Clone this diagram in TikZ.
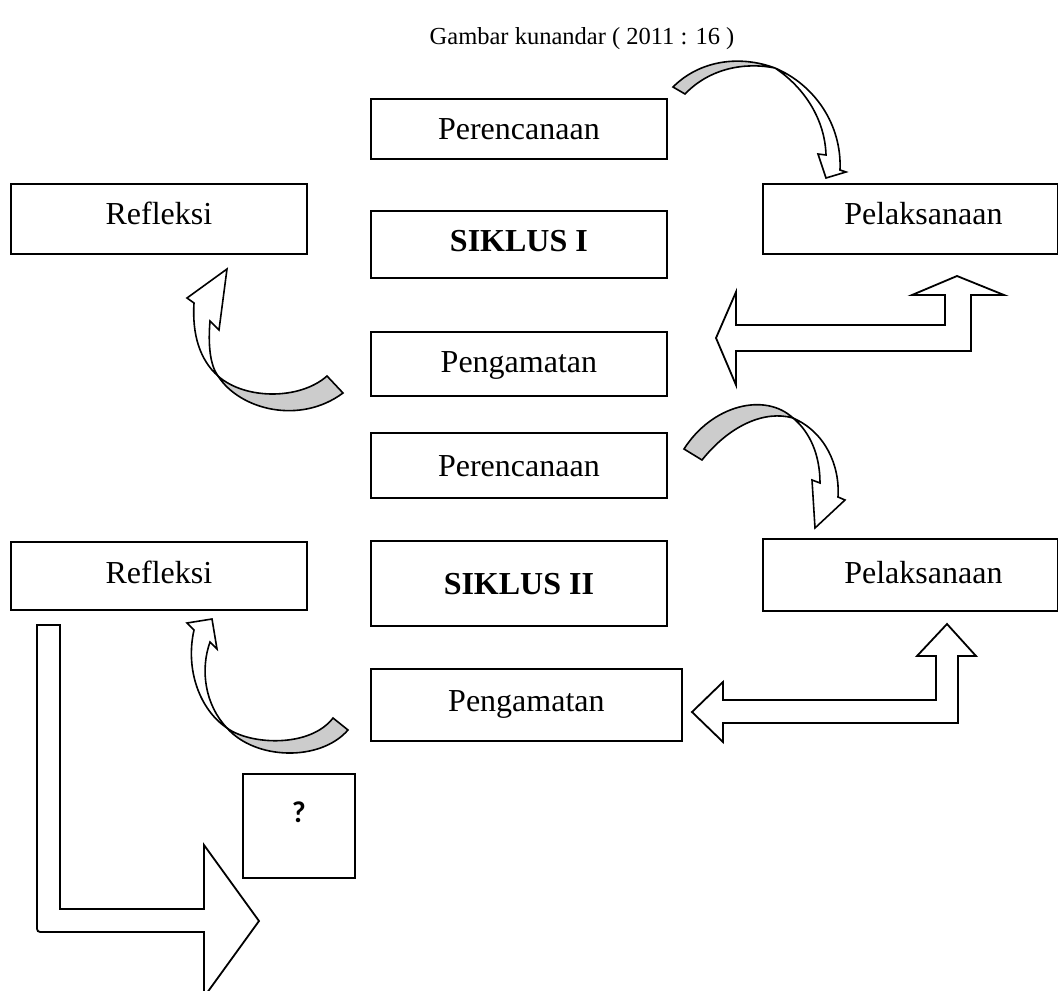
\documentclass[tikz,border=0pt]{standalone}
\usepackage{fontspec}
\setmainfont{Liberation Serif}
\newfontfamily\qfont{Carlito}
\definecolor{bandgray}{RGB}{204,204,204}
\begin{document}
\begin{tikzpicture}[x=1pt,y=-1pt,
  boxstyle/.style={draw=black, line width=1.8pt, rectangle, inner sep=0pt, anchor=north west},
  txt/.style={font=\fontsize{32}{38}\selectfont, anchor=base, inner sep=0pt},
  bandline/.style={draw=black, line width=1.6pt, line join=miter, miter limit=10},
  arrowline/.style={draw=black, fill=white, line width=1.8pt, line join=miter, miter limit=10}
]
\useasboundingbox (0,0) rectangle (1058,991);
\clip (0,0) rectangle (1058,991);

% title
\node[font=\fontsize{24.5}{29}\selectfont, anchor=base, inner sep=0pt] (title) at (582,44) {Gambar kunandar ( 2011 : 16 )};

% cycle I boxes
\node[boxstyle, minimum width=296pt, minimum height=60pt] (per1) at (370,98) {};
\node[txt] (per1t) at ([yshift=-41pt]per1.north) {Perencanaan};
\node[boxstyle, minimum width=296pt, minimum height=70pt] (ref1) at (10,183) {};
\node[txt] (ref1t) at ([yshift=-41pt]ref1.north) {Refleksi};
\node[boxstyle, minimum width=296pt, minimum height=67pt] (sik1) at (370,210) {};
\node[txt] (sik1t) at ([yshift=-41pt]sik1.north) {\textbf{SIKLUS I}};
\node[boxstyle, minimum width=295pt, minimum height=70pt] (pel1) at (762,183) {};
\node[txt] (pel1t) at ([xshift=13pt,yshift=-41pt]pel1.north) {Pelaksanaan};
\node[boxstyle, minimum width=296pt, minimum height=64pt] (pen1) at (370,331) {};
\node[txt] (pen1t) at ([yshift=-41pt]pen1.north) {Pengamatan};

% cycle II boxes
\node[boxstyle, minimum width=296pt, minimum height=65pt] (per2) at (370,432) {};
\node[txt] (per2t) at ([yshift=-44pt]per2.north) {Perencanaan};
\node[boxstyle, minimum width=296pt, minimum height=68pt] (ref2) at (10,541) {};
\node[txt] (ref2t) at ([yshift=-42pt]ref2.north) {Refleksi};
\node[boxstyle, minimum width=296pt, minimum height=85pt] (sik2) at (370,540) {};
\node[txt] (sik2t) at ([yshift=-54pt]sik2.north) {\textbf{SIKLUS II}};
\node[boxstyle, minimum width=295pt, minimum height=72pt] (pel2) at (762,538) {};
\node[txt] (pel2t) at ([xshift=13pt,yshift=-45pt]pel2.north) {Pelaksanaan};
\node[boxstyle, minimum width=311pt, minimum height=72pt] (pen2) at (370,668) {};
\node[txt] (pen2t) at ([yshift=-43pt]pen2.north) {Pengamatan};

% question box
\node[boxstyle, minimum width=112pt, minimum height=104pt] (qbox) at (242,773) {};
\node[font=\qfont\bfseries\fontsize{30}{34}\selectfont, anchor=base, inner sep=0pt] (qt) at ([yshift=-49pt]qbox.north) {?};

% curved arrow 1 (Perencanaan I -> Pelaksanaan I)
\filldraw[bandline, fill=bandgray] (673,87) .. controls (700,60) and (740,55) .. (775,68) .. controls (745,62) and (710,68) .. (685,94) -- cycle;
\filldraw[bandline, fill=white] (775,68) .. controls (815,85) and (842,125) .. (840,170) -- (846,172) -- (826,178) -- (818,154) -- (826,155) .. controls (825,120) and (805,88) .. (775,68) -- cycle;

% curved arrow 2 (Perencanaan II -> Pelaksanaan II)
\filldraw[bandline, fill=bandgray] (684,449) .. controls (712,405) and (765,392) .. (793,418) .. controls (765,410) and (730,425) .. (702,460) -- cycle;
\filldraw[bandline, fill=white] (793,418) .. controls (825,432) and (840,465) .. (838,497) -- (845,500) -- (815,528) -- (812,480) -- (820,483) .. controls (820,455) and (810,432) .. (793,418) -- cycle;

% curved arrow 3 (Pengamatan I -> Refleksi I)
\filldraw[bandline, fill=white] (218,376) .. controls (200,360) and (192,335) .. (194,303) -- (187,298) -- (227,269) -- (219,330) -- (210,321) .. controls (208,345) and (210,365) .. (218,376) -- cycle;
\filldraw[bandline, fill=bandgray] (218,376) .. controls (245,400) and (300,400) .. (327,376) -- (343,393) .. controls (300,425) and (240,410) .. (218,376) -- cycle;

% curved arrow 4 (Pengamatan II -> Refleksi II)
\filldraw[bandline, fill=white] (227,728) .. controls (200,710) and (185,670) .. (194,630) -- (187,623) -- (212,619) -- (217,649) -- (210,642) .. controls (200,670) and (205,705) .. (227,728) -- cycle;
\filldraw[bandline, fill=bandgray] (227,728) .. controls (250,745) and (310,748) .. (333,718) -- (348,730) .. controls (320,762) and (255,760) .. (227,728) -- cycle;

% elbow arrow cycle I (Pelaksanaan I <-> Pengamatan I)
\draw[arrowline] (716,338) -- (736,292) -- (736,325) -- (945,325) -- (945,295) -- (912,295) -- (957,276) -- (1004,295) -- (971,295) -- (971,351) -- (736,351) -- (736,385) -- cycle;

% elbow arrow cycle II
\draw[arrowline] (692,712) -- (723,682) -- (723,700) -- (936,700) -- (936,656) -- (917,656) -- (947,624) -- (976,656) -- (958,656) -- (958,723) -- (723,723) -- (723,742) -- cycle;

% L arrow from Refleksi II
\draw[arrowline] (37,625) -- (60,625) -- (60,909) -- (204,909) -- (204,845) -- (259,921) -- (204,997) -- (204,932) -- (44,932) .. controls (37,932) .. (37,925) -- cycle;
\end{tikzpicture}
\end{document}
